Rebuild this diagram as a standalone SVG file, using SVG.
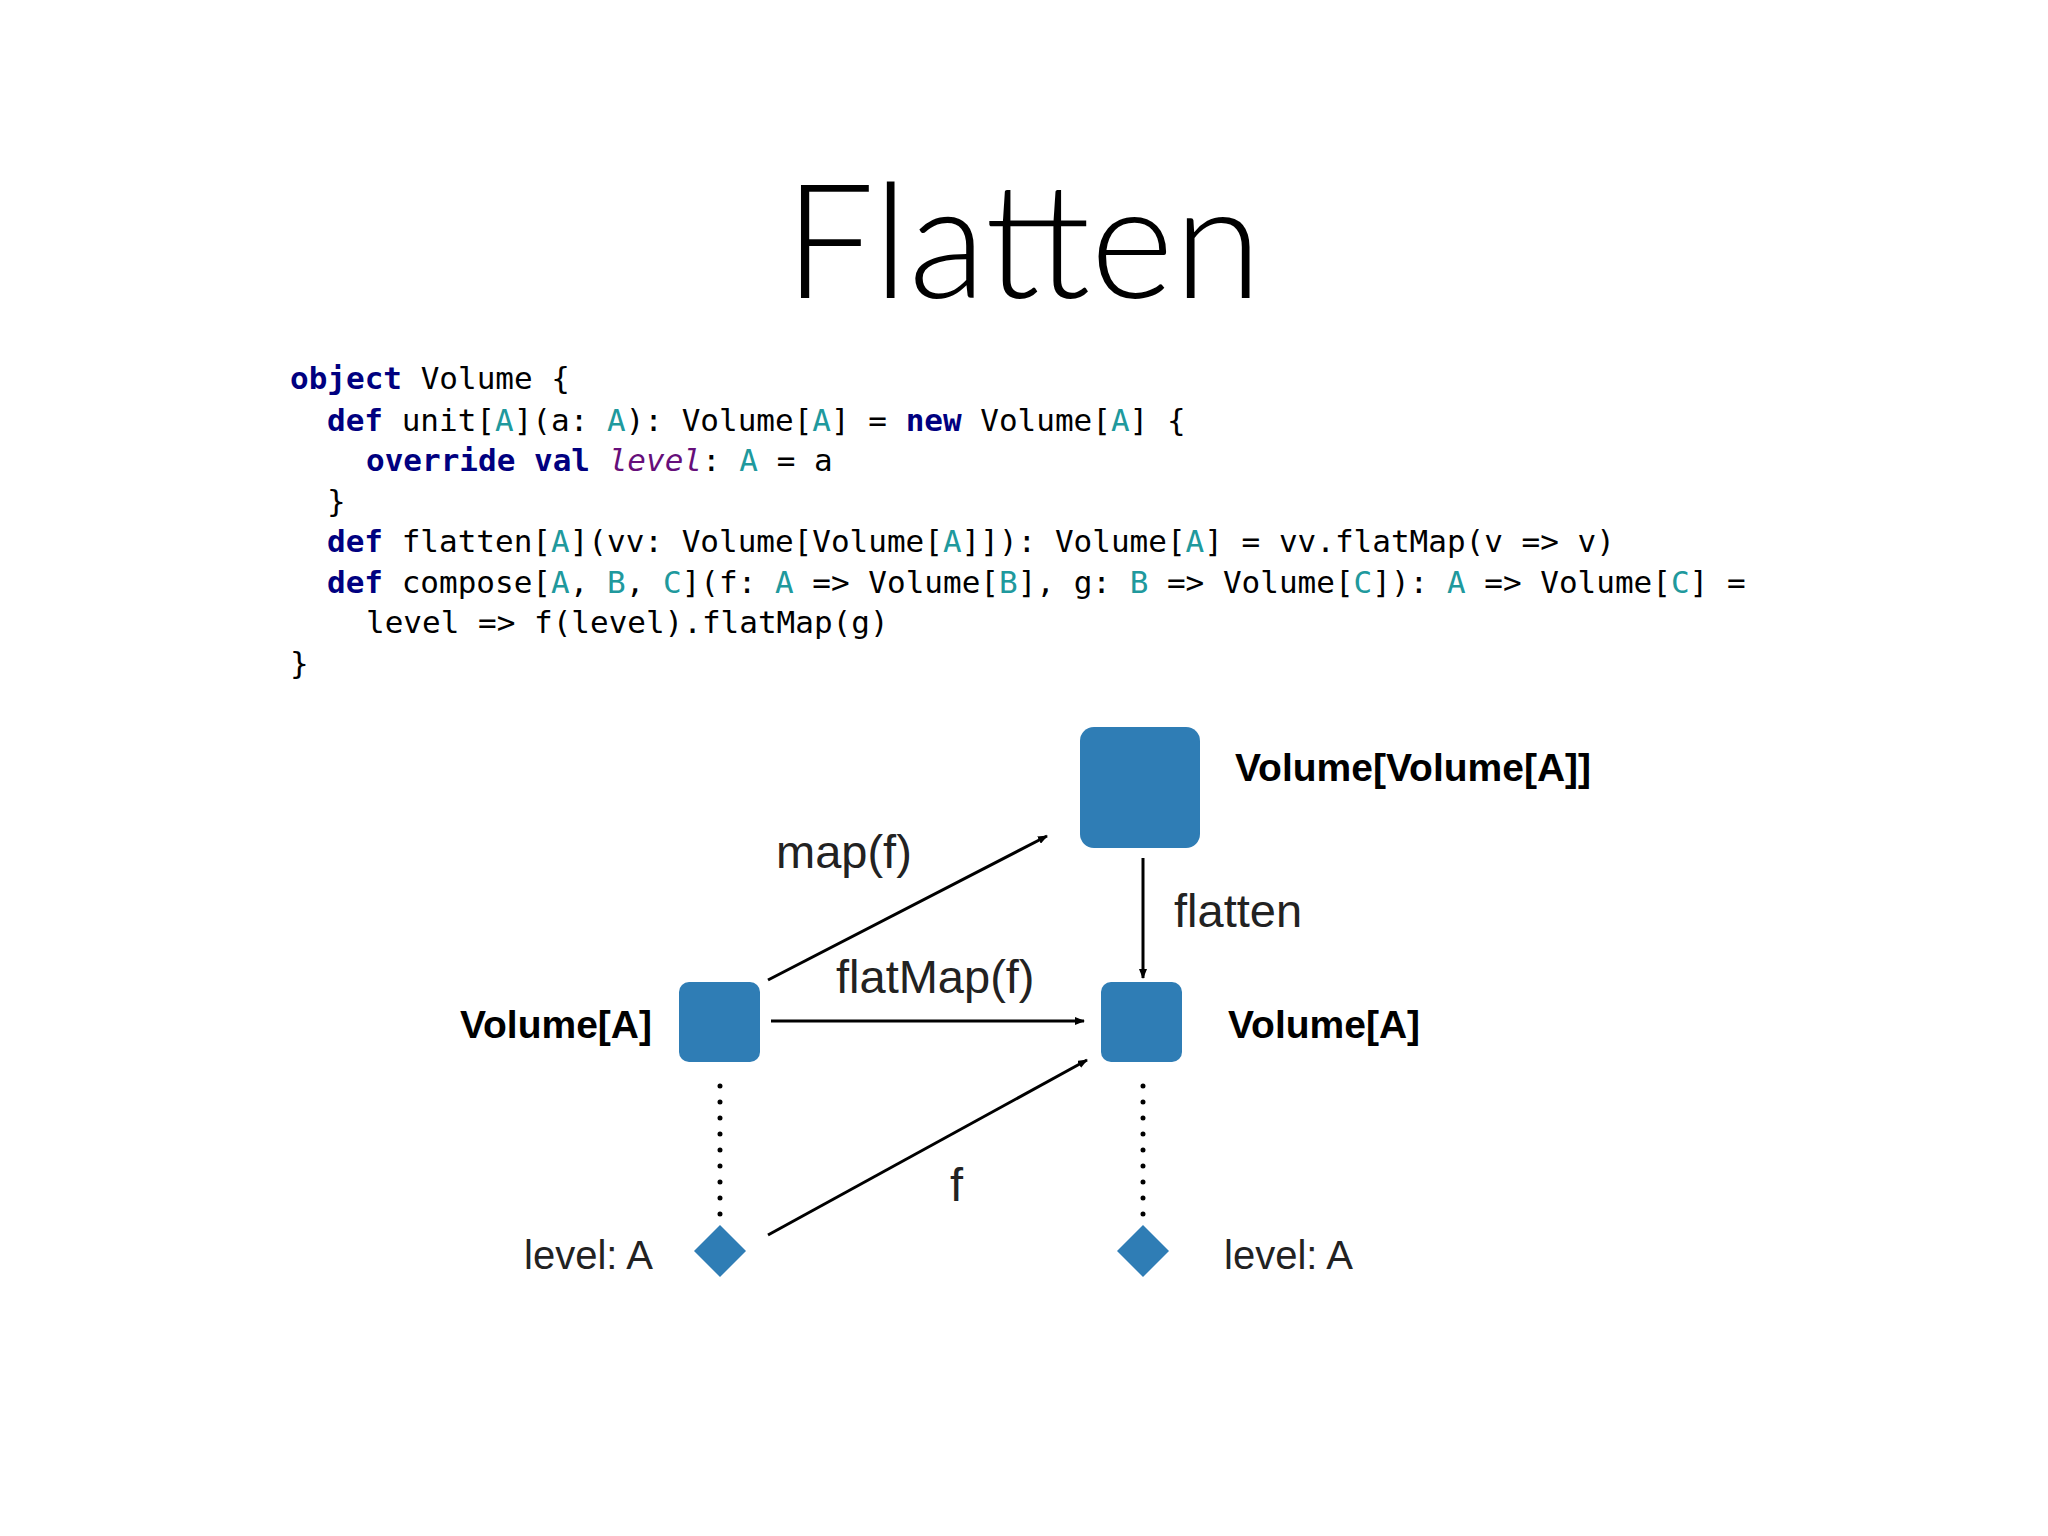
<svg xmlns="http://www.w3.org/2000/svg" width="2048" height="1536" viewBox="0 0 2048 1536">
<style>
.code{font-family:"DejaVu Sans Mono",monospace;font-size:31px;fill:#000}
.kw{font-weight:bold;fill:#000080}
.tp{fill:#20999D}
.lv{fill:#660E7A;font-style:italic}
.box{fill:#2F7DB5}
.lbl{font-family:"Liberation Sans",Arial,sans-serif;font-size:39px;font-weight:bold;fill:#000}
.t{font-family:"Liberation Sans",Arial,sans-serif;font-size:47px;fill:#222}
.lvl{font-family:"Liberation Sans",Arial,sans-serif;font-size:40px;fill:#222}
.ln{stroke:#000;stroke-width:3;fill:none;marker-end:url(#ah)}
</style>
<defs>
<marker id="ah" markerWidth="10" markerHeight="8" refX="9" refY="4" orient="auto" markerUnits="userSpaceOnUse" viewBox="0 0 10 8"><path d="M0,0 L10,4 L0,8 z" fill="#000"/></marker>
</defs>
<rect width="2048" height="1536" fill="#fff"/>
<text x="1023" y="298" text-anchor="middle" font-family="Lato, 'Liberation Sans', sans-serif" font-size="160" font-weight="300" fill="#000">Flatten</text>
<g id="code">
<text class="code" x="290" y="389"><tspan class="kw">object</tspan> Volume {</text>
<text class="code" x="327" y="431"><tspan class="kw">def</tspan> unit[<tspan class="tp">A</tspan>](a: <tspan class="tp">A</tspan>): Volume[<tspan class="tp">A</tspan>] = <tspan class="kw">new</tspan> Volume[<tspan class="tp">A</tspan>] {</text>
<text class="code" x="366" y="471"><tspan class="kw">override val</tspan> <tspan class="lv">level</tspan>: <tspan class="tp">A</tspan> = a</text>
<text class="code" x="327" y="512">}</text>
<text class="code" x="327" y="552"><tspan class="kw">def</tspan> flatten[<tspan class="tp">A</tspan>](vv: Volume[Volume[<tspan class="tp">A</tspan>]]): Volume[<tspan class="tp">A</tspan>] = vv.flatMap(v =&gt; v)</text>
<text class="code" x="327" y="593"><tspan class="kw">def</tspan> compose[<tspan class="tp">A</tspan>, <tspan class="tp">B</tspan>, <tspan class="tp">C</tspan>](f: <tspan class="tp">A</tspan> =&gt; Volume[<tspan class="tp">B</tspan>], g: <tspan class="tp">B</tspan> =&gt; Volume[<tspan class="tp">C</tspan>]): <tspan class="tp">A</tspan> =&gt; Volume[<tspan class="tp">C</tspan>] =</text>
<text class="code" x="366" y="633">level =&gt; f(level).flatMap(g)</text>
<text class="code" x="290" y="674">}</text>
</g>
<g id="vva"><rect class="box" x="1080" y="727" width="120" height="121" rx="14"/><text class="lbl" x="1235" y="781">Volume[Volume[A]]</text></g>
<g id="va1"><rect class="box" x="679" y="982" width="81" height="80" rx="10"/><text class="lbl" x="652" y="1038" text-anchor="end">Volume[A]</text></g>
<g id="va2"><rect class="box" x="1101" y="982" width="81" height="80" rx="10"/><text class="lbl" x="1228" y="1038">Volume[A]</text></g>
<g id="lv1"><path class="box" d="M720,1225 L746,1251 L720,1277 L694,1251 z"/><text class="lvl" x="524" y="1269">level: A</text></g>
<g id="lv2"><path class="box" d="M1143,1225 L1169,1251 L1143,1277 L1117,1251 z"/><text class="lvl" x="1224" y="1269">level: A</text></g>
<g id="connectors">
<line class="ln" x1="768" y1="980" x2="1047" y2="836"/>
<line class="ln" x1="771" y1="1021" x2="1084" y2="1021"/>
<line class="ln" x1="1143" y1="858" x2="1143" y2="978"/>
<line class="ln" x1="768" y1="1235" x2="1087" y2="1060"/>
<line x1="720" y1="1086" x2="720" y2="1215" stroke="#000" stroke-width="5" stroke-linecap="round" stroke-dasharray="0 16"/>
<line x1="1143" y1="1086" x2="1143" y2="1215" stroke="#000" stroke-width="5" stroke-linecap="round" stroke-dasharray="0 16"/>
<text class="t" x="776" y="868">map(f)</text>
<text class="t" x="1174" y="927">flatten</text>
<text class="t" x="836" y="993">flatMap(f)</text>
<text class="t" x="950" y="1201">f</text>
</g>
</svg>
